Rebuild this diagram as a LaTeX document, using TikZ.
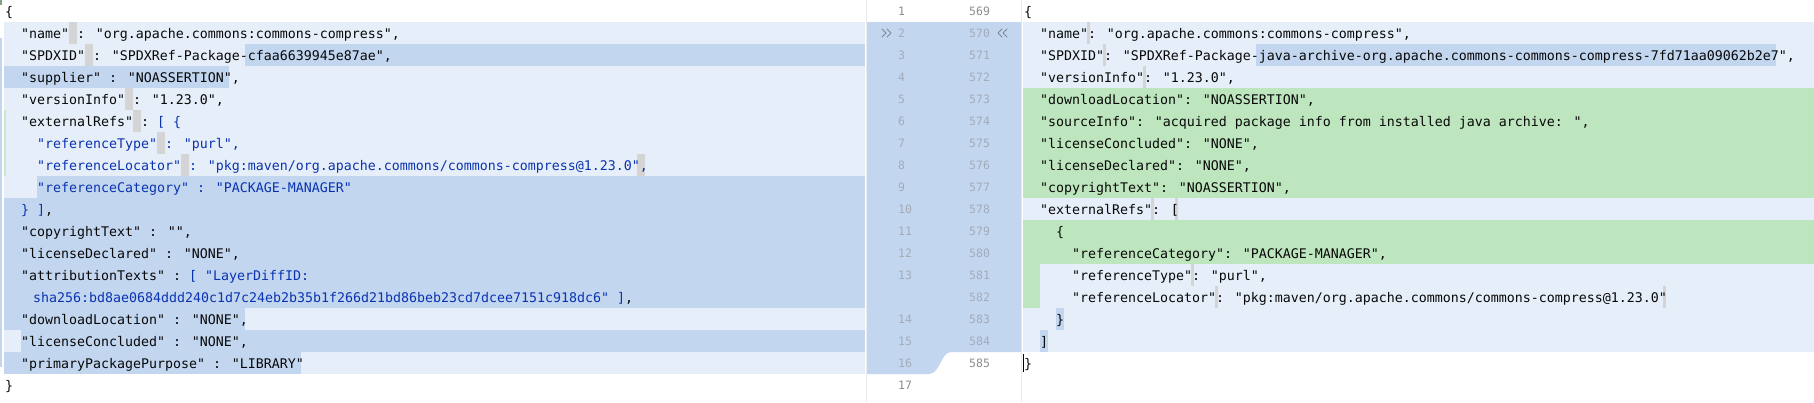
\documentclass[tikz,border=0pt]{standalone}
\usepackage{fontspec}
\newfontfamily\codefont{DejaVu Sans Mono}
\definecolor{modbg}{HTML}{E6EEF9}
\definecolor{moddark}{HTML}{C2D6F0}
\definecolor{insbg}{HTML}{BEE6BE}
\definecolor{insline}{HTML}{C9E8C9}
\definecolor{wsgrey}{HTML}{D4D4D4}
\definecolor{keyblue}{HTML}{0B33B0}
\definecolor{codeblack}{HTML}{080808}
\definecolor{numgrey}{HTML}{A3ABB8}
\definecolor{numdark}{HTML}{8C8C8C}
\definecolor{chevgrey}{HTML}{7F8794}
\definecolor{sepgrey}{HTML}{EBEBEB}

\begin{document}
\begin{tikzpicture}[x=1pt,y=-1pt]
\tikzset{code/.style={font=\codefont\fontsize{13.288}{16}\selectfont,inner sep=0pt,anchor=base west,text=codeblack},
  key/.style={code,text=keyblue},
  lnum/.style={font=\codefont\fontsize{11.5}{14}\selectfont,inner sep=0pt,anchor=base west,text=numgrey},
  chev/.style={draw=chevgrey,line width=0.9pt,line cap=round,line join=round},
  wsbox/.style={fill=wsgrey}}
\useasboundingbox (0,0) rectangle (1814,402);

\draw[sepgrey] (866.5,0) -- (866.5,402);
\draw[sepgrey] (1021.5,0) -- (1021.5,402);

% left pane
\fill[modbg] (4,22) rectangle (865,374);
\fill[moddark] (245,44) rectangle (865,66);
\fill[moddark] (4,66) rectangle (229,88);
\fill[moddark] (37,176) rectangle (865,198);
\fill[moddark] (4,198) rectangle (865,308);
\fill[moddark] (4,308) rectangle (245,330);
\fill[moddark] (21,330) rectangle (865,352);
\fill[moddark] (4,352) rectangle (301,374);
\fill[wsbox] (69,22) rectangle (77,44);
\fill[wsbox] (85,44) rectangle (93,66);
\fill[wsbox] (125,88) rectangle (133,110);
\fill[wsbox] (133,110) rectangle (141,132);
\fill[wsbox] (157,132) rectangle (165,154);
\fill[wsbox] (181,154) rectangle (189,176);
\fill[wsbox] (637,154) rectangle (645,176);
\fill[moddark] (0,38) rectangle (1.5,367);
\fill[insline] (4,110) rectangle (6,176);
\fill[insbg!70!black] (0,0) rectangle (1.5,5);

\node[code] (l1) at (5,16) {\{};
\node[code] (l2) at (21,38) {"name" : "org.apache.commons:commons-compress",};
\node[code] (l3) at (21,60) {"SPDXID" : "SPDXRef-Package-cfaa6639945e87ae",};
\node[code] (l4) at (21,82) {"supplier" : "NOASSERTION",};
\node[code] (l5) at (21,104) {"versionInfo" : "1.23.0",};
\node[code] (l6) at (21,126) {"externalRefs" :};
\node[key] (l6b) at (157,126) {[ \{};
\node[key] (l7) at (37,148) {"referenceType" : "purl",};
\node[key] (l8) at (37,170) {"referenceLocator" : "pkg:maven/org.apache.commons/commons-compress@1.23.0",};
\node[key] (l9) at (37,192) {"referenceCategory" : "PACKAGE-MANAGER"};
\node[key] (l10) at (21,214) {\} ]};
\node[code] (l10b) at (45,214) {,};
\node[code] (l11) at (21,236) {"copyrightText" : "",};
\node[code] (l12) at (21,258) {"licenseDeclared" : "NONE",};
\node[code] (l13) at (21,280) {"attributionTexts" :};
\node[key] (l13b) at (189,280) {[ "LayerDiffID:};
\node[key] (l13c) at (33,302) {sha256:bd8ae0684ddd240c1d7c24eb2b35b1f266d21bd86beb23cd7dcee7151c918dc6" ]};
\node[code] (l13d) at (625,302) {,};
\node[code] (l14) at (21,324) {"downloadLocation" : "NONE",};
\node[code] (l15) at (21,346) {"licenseConcluded" : "NONE",};
\node[code] (l16) at (21,368) {"primaryPackagePurpose" : "LIBRARY"};
\node[code] (l17) at (5,390) {\}};

% gutter
\fill[moddark] (867,22) -- (1021,22) -- (1021,352) -- (951,352) .. controls (941,352) and (940,374) .. (929,374) -- (867,374) -- cycle;
\draw[chev] (882,29) -- (886,33) -- (882,37) (887,29) -- (891,33) -- (887,37);
\draw[chev] (1002,29) -- (998,33) -- (1002,37) (1007,29) -- (1003,33) -- (1007,37);
\node[lnum,text=numdark] (nl1) at (898,15.5) {1};
\foreach \i in {2,...,13}
  \node[lnum] (nl\i) at (898,{22*(\i-1)+15.5}) {\i};
\foreach \i in {14,15,16}
  \node[lnum] (nl\i) at (898,{22*\i+15.5}) {\i};
\node[lnum,text=numdark] (nl17) at (898,389.5) {17};
\node[lnum,text=numdark] (nr569) at (969,15.5) {569};
\foreach \i in {570,...,584}
  \node[lnum] (nr\i) at (969,{22*(\i-569)+15.5}) {\i};
\node[lnum,text=numdark] (nr585) at (969,367.5) {585};

% right pane
\fill[modbg] (1023,22) rectangle (1814,88);
\fill[insbg] (1023,88) rectangle (1814,198);
\fill[modbg] (1023,198) rectangle (1814,220);
\fill[insbg] (1023,220) rectangle (1814,264);
\fill[modbg] (1023,264) rectangle (1814,352);
\fill[insbg] (1023,264) rectangle (1040,308);
\fill[moddark] (1256,44) rectangle (1776,66);
\fill[moddark] (1056,308) rectangle (1064,330);
\fill[moddark] (1040,330) rectangle (1048,352);
\foreach \x/\y in {1088/22,1104/44,1144/66,1152/198,1176/198,1192/264,1216/286,1664/286}
  \fill[wsbox] (\x-1,\y) rectangle (\x+1.5,\y+22);

\node[code] (r1) at (1024,16) {\{};
\node[code] (r2) at (1040,38) {"name": "org.apache.commons:commons-compress",};
\node[code] (r3) at (1040,60) {"SPDXID": "SPDXRef-Package-java-archive-org.apache.commons-commons-compress-7fd71aa09062b2e7",};
\node[code] (r4) at (1040,82) {"versionInfo": "1.23.0",};
\node[code] (r5) at (1040,104) {"downloadLocation": "NOASSERTION",};
\node[code] (r6) at (1040,126) {"sourceInfo": "acquired package info from installed java archive: ",};
\node[code] (r7) at (1040,148) {"licenseConcluded": "NONE",};
\node[code] (r8) at (1040,170) {"licenseDeclared": "NONE",};
\node[code] (r9) at (1040,192) {"copyrightText": "NOASSERTION",};
\node[code] (r10) at (1040,214) {"externalRefs": [};
\node[code] (r11) at (1056,236) {\{};
\node[code] (r12) at (1072,258) {"referenceCategory": "PACKAGE-MANAGER",};
\node[code] (r13) at (1072,280) {"referenceType": "purl",};
\node[code] (r14) at (1072,302) {"referenceLocator": "pkg:maven/org.apache.commons/commons-compress@1.23.0"};
\node[code] (r15) at (1056,324) {\}};
\node[code] (r16) at (1040,346) {]};
\node[code] (r17) at (1024,368) {\}};
\draw[line width=1.6pt] (1023.5,354) -- (1023.5,372);
\end{tikzpicture}
\end{document}
